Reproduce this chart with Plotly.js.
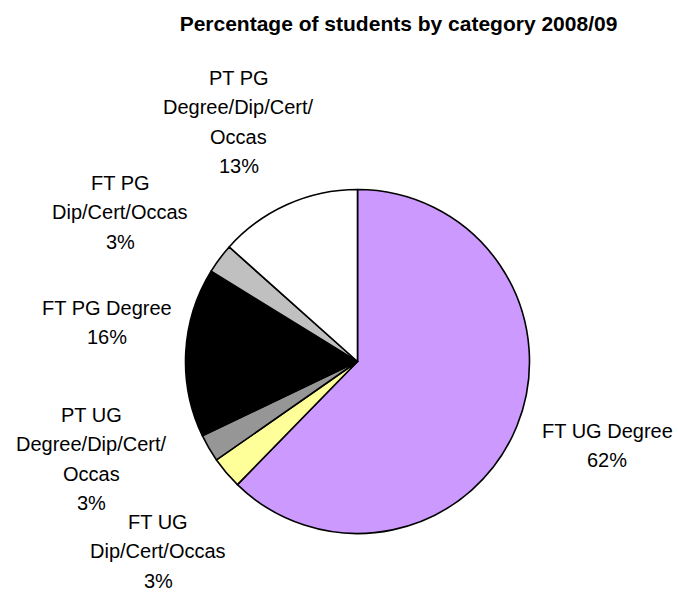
<!DOCTYPE html>
<html>
<head>
<meta charset="utf-8">
<script src="https://cdn.plot.ly/plotly-3.0.1.min.js"></script>
<style>html,body{margin:0;padding:0;background:#fff;}#chart{width:678px;height:592px;}</style>
</head>
<body>
<div id="chart"></div>
<script>
// ---- data ----
var categories = [
  "FT UG Degree",
  "FT UG<br>Dip/Cert/Occas",
  "PT UG<br>Degree/Dip/Cert/<br>Occas",
  "FT PG Degree",
  "FT PG<br>Dip/Cert/Occas",
  "PT PG<br>Degree/Dip/Cert/<br>Occas"
];
var values = [62.3, 3.0, 2.6, 15.9, 2.8, 13.4];
var colors = ["#CC99FF", "#FFFF99", "#969696", "#000000", "#C0C0C0", "#FFFFFF"];
var titleText = "Percentage of students by category 2008/09";

// ---- label placement (pixel positions of first line centre) ----
var W = 678, H = 592;
var labelAnchors = [
  [607, 431],
  [158, 522],
  [91.7, 415],
  [106.7, 308],
  [120.3, 182.7],
  [238.7, 78]
];
var lineStep = 29.4;

var total = values.reduce(function(a, b){ return a + b; }, 0);
var annotations = [];
categories.forEach(function(cat, i){
  var lines = cat.split("<br>");
  lines.push(Math.round(values[i] / total * 100) + "%");
  lines.forEach(function(t, k){
    annotations.push({
      text: t,
      xref: "paper", yref: "paper",
      x: labelAnchors[i][0] / W,
      y: 1 - (labelAnchors[i][1] + k * lineStep) / H,
      xanchor: "center", yanchor: "middle",
      borderpad: 0,
      showarrow: false,
      font: {family: "Liberation Sans, Arial, sans-serif", size: 20, color: "#000"}
    });
  });
});

var cx = 357.5, cy = 361.5, r = 172;
var trace = {
  type: "pie",
  labels: categories.map(function(c){ return c.replace(/<br>/g, " "); }),
  values: values,
  sort: false,
  direction: "clockwise",
  rotation: 0,
  textinfo: "none",
  hoverinfo: "none",
  marker: {colors: colors, line: {color: "#000000", width: 1.6}},
  domain: {x: [(cx - r) / W, (cx + r) / W], y: [1 - (cy + r) / H, 1 - (cy - r) / H]},
  showlegend: false
};

var layout = {
  width: W, height: H,
  margin: {l: 0, r: 0, t: 0, b: 0},
  paper_bgcolor: "#ffffff",
  plot_bgcolor: "#ffffff",
  showlegend: false,
  title: {
    text: titleText,
    font: {family: "Liberation Sans, Arial, sans-serif", size: 21, weight: 700, color: "#000"},
    x: 398.5 / W, xanchor: "center",
    xref: "paper", yref: "container",
    y: 1 - 24 / H, yanchor: "middle"
  },
  annotations: annotations
};

Plotly.newPlot("chart", [trace], layout, {staticPlot: true, displayModeBar: false});
</script>
</body>
</html>
